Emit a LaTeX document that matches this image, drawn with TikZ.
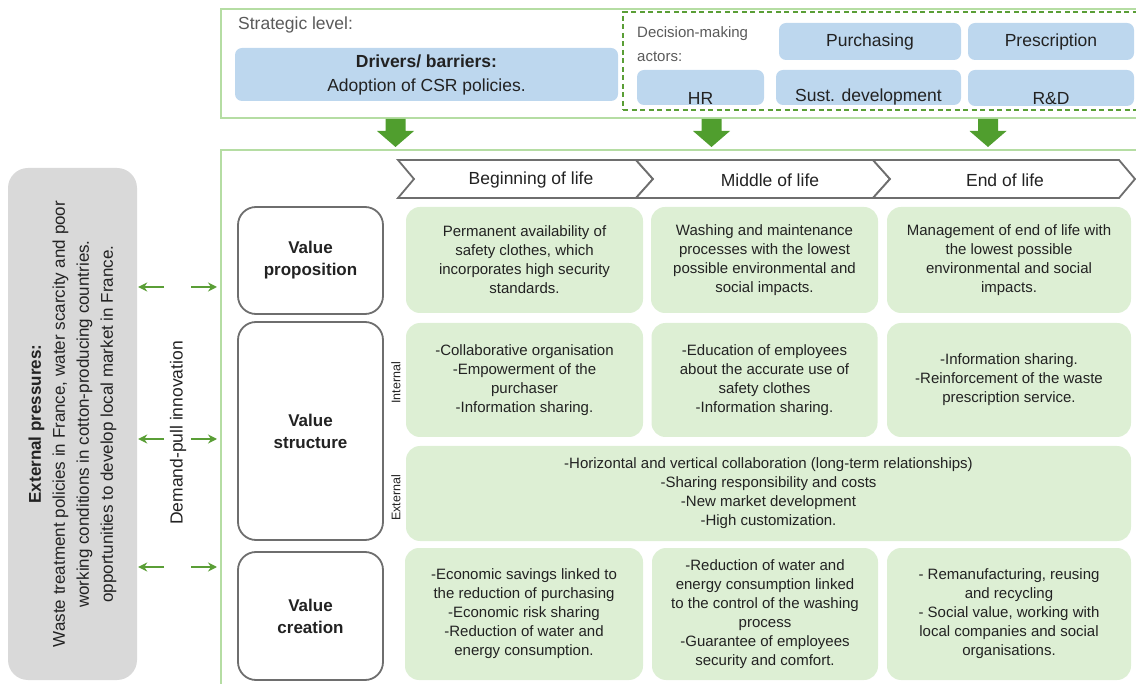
\documentclass[tikz,border=0pt]{standalone}
\usepackage{fontspec}
\setmainfont{Liberation Sans}
\usetikzlibrary{arrows.meta,calc}
\definecolor{boxline}{HTML}{B5DDA3}
\definecolor{dashgreen}{HTML}{5A9E36}
\definecolor{bluefill}{HTML}{BDD7EE}
\definecolor{cellgreen}{HTML}{DDEFD4}
\definecolor{grayfill}{HTML}{D9D9D9}
\definecolor{blockgreen}{HTML}{509E2E}
\definecolor{valgray}{HTML}{6E6E6E}
\definecolor{txt}{HTML}{222222}
\definecolor{softtxt}{HTML}{5A5A5A}
\begin{document}
\begin{tikzpicture}[x=1pt,y=-1pt,
  frame/.style={draw=boxline,line width=2pt,inner sep=0pt},
  dashframe/.style={draw=dashgreen,line width=1.4pt,dash pattern=on 5pt off 3.5pt,inner sep=0pt},
  bluebox/.style={fill=bluefill,rounded corners=7pt,inner sep=0pt,text=txt,font=\fontsize{17.5}{24}\selectfont},
  cell/.style={fill=cellgreen,rounded corners=14pt,inner sep=0pt,align=center,text=txt,font=\fontsize{15}{19}\selectfont},
  valbox/.style={draw=valgray,fill=white,line width=1.8pt,rounded corners=18pt,inner sep=0pt,align=center,text=txt,font=\fontsize{17}{22}\selectfont\bfseries},
  chev/.style={draw=valgray,fill=white,line width=1.8pt,line join=miter},
  chevtext/.style={text=txt,font=\fontsize{17.5}{20}\selectfont},
  blockarrow/.style={fill=blockgreen},
  pressarrow/.style={draw=dashgreen,line width=1.5pt,-{Stealth[length=9pt,width=9pt]}},
  sidelabel/.style={text=txt,font=\fontsize{12.5}{14}\selectfont,rotate=90},
  plain/.style={inner sep=0pt,text=softtxt}
]
\useasboundingbox (0,0) rectangle (1136,684);

% strategic level frame
\node[frame,minimum width=929,minimum height=109] (top) at (685.5,63.5) {};
\node[plain,anchor=west,font=\fontsize{17.5}{20}\selectfont] (strat) at (238,25) {Strategic level:};
\node[bluebox,minimum width=383,minimum height=53,align=center] (drivers) at (426.5,74.5)
  {\textbf{Drivers/ barriers:}\\Adoption of CSR policies.};
\node[dashframe,minimum width=527,minimum height=98] (actors) at (886.5,61) {};
\node[plain,anchor=west,font=\fontsize{15}{18}\selectfont] (dm1) at (637,34) {Decision-making};
\node[plain,anchor=west,font=\fontsize{15}{18}\selectfont] (dm2) at (637,57) {actors:};
\node[bluebox,minimum width=182,minimum height=37] (purch) at (870,41.5) {Purchasing};
\node[bluebox,minimum width=166,minimum height=37] (presc) at (1051,41.5) {Prescription};
\node[bluebox,minimum width=127,minimum height=35] (hr) at (700.5,87.5) {};
\node[bluebox,minimum width=185,minimum height=35] (sust) at (868.5,87.5) {};
\node[bluebox,minimum width=166,minimum height=36] (rd) at (1051,88) {};
\node[text=txt,font=\fontsize{17.5}{20}\selectfont,inner sep=0pt] (hrt) at (700.5,98) {HR};
\node[text=txt,font=\fontsize{17.5}{20}\selectfont,inner sep=0pt] (sustt) at (868.5,97) {Sust. development};
\node[text=txt,font=\fontsize{17.5}{20}\selectfont,inner sep=0pt] (rdt) at (1051,99) {R\&D};

% main frame
\node[frame,minimum width=929,minimum height=550] (main) at (685.5,425) {};

% block arrows
\foreach \cx/\nm in {395.5/ba1,711.5/ba2,988/ba3}{
  \coordinate (\nm) at (\cx,118);
  \fill[blockarrow] ($(\nm |- top.south)+(-10,0)$) -- ++(20,0) -- ++(0,12) -- ++(8.5,0)
     -- ++(-18.5,16) -- ++(-18.5,-16) -- ++(8.5,0) -- cycle;
}

% chevrons
\draw[chev] (398,160) -- (636,160) -- (653,179) -- (636,198) -- (398,198) -- (414,179) -- cycle;
\draw[chev] (636,160) -- (873,160) -- (890,179) -- (873,198) -- (636,198) -- (653,179) -- cycle;
\draw[chev] (873,160) -- (1119,160) -- (1135,179) -- (1119,198) -- (873,198) -- (890,179) -- cycle;
\node[chevtext] (bol) at (531,180) {Beginning of life};
\node[chevtext] (mol) at (770,180) {Middle of life};
\node[chevtext] (eol) at (1005,180) {End of life};

% value boxes
\node[valbox,minimum width=145,minimum height=107] (vp) at (310.5,260.5) {Value\\proposition};
\node[valbox,minimum width=145,minimum height=218] (vs) at (310.5,431) {Value\\structure};
\node[valbox,minimum width=145,minimum height=128] (vc) at (310.5,616) {Value\\creation};

\node[sidelabel] (intl) at (396,383) {Internal};
\node[sidelabel] (extl) at (396,498) {External};

% cells row 1
\node[cell,minimum width=237,minimum height=106] (r1c1) at (524.5,260)
  {Permanent availability of\\safety clothes, which\\incorporates high security\\standards.};
\node[cell,minimum width=227,minimum height=106] (r1c2) at (764.5,260)
  {Washing and maintenance\\processes with the lowest\\possible environmental and\\social impacts.};
\node[cell,minimum width=244,minimum height=106] (r1c3) at (1009,260)
  {Management of end of life with\\the lowest possible\\environmental and social\\impacts.};
% row 2
\node[cell,minimum width=237,minimum height=114] (r2c1) at (524.5,380)
  {-Collaborative organisation\\-Empowerment of the\\purchaser\\-Information sharing.};
\node[cell,minimum width=226,minimum height=114] (r2c2) at (764.5,380)
  {-Education of employees\\about the accurate use of\\safety clothes\\-Information sharing.};
\node[cell,minimum width=244,minimum height=114] (r2c3) at (1009,380)
  {-Information sharing.\\-Reinforcement of the waste\\prescription service.};
\node[cell,minimum width=725,minimum height=95] (r2ext) at (768.5,493.5)
  {-Horizontal and vertical collaboration (long-term relationships)\\-Sharing responsibility and costs\\-New market development\\-High customization.};
% row 3
\node[cell,minimum width=238,minimum height=132] (r3c1) at (524,614)
  {-Economic savings linked to\\the reduction of purchasing\\-Economic risk sharing\\-Reduction of water and\\energy consumption.};
\node[cell,minimum width=226,minimum height=132] (r3c2) at (765,614)
  {-Reduction of water and\\energy consumption linked\\to the control of the washing\\process\\-Guarantee of employees\\security and comfort.};
\node[cell,minimum width=244,minimum height=132] (r3c3) at (1009,614)
  {- Remanufacturing, reusing\\and recycling\\- Social value, working with\\local companies and social\\organisations.};

% external pressures
\node[fill=grayfill,rounded corners=20pt,rotate=90,minimum width=512,minimum height=129,inner sep=0pt,
      align=center,text=txt,font=\fontsize{17}{24}\selectfont] (ext) at (72.5,424)
  {\textbf{External pressures:}\\Waste treatment policies in France, water scarcity and poor\\working conditions in cotton-producing countries.\\opportunities to develop local market in France.};
\node[rotate=90,text=txt,font=\fontsize{17.5}{20}\selectfont,inner sep=0pt] (dpi) at (178,433) {Demand-pull innovation};

\foreach \yy/\nm in {287/p1,439/p2,567/p3}{
  \coordinate (\nm) at (0,\yy);
  \draw[pressarrow] ($(ext.south |- \nm)+(27,0)$) -- ($(ext.south |- \nm)+(1,0)$);
  \draw[pressarrow] ($(main.west |- \nm)+(-29,0)$) -- ($(main.west |- \nm)+(-3,0)$);
}
\end{tikzpicture}
\end{document}
